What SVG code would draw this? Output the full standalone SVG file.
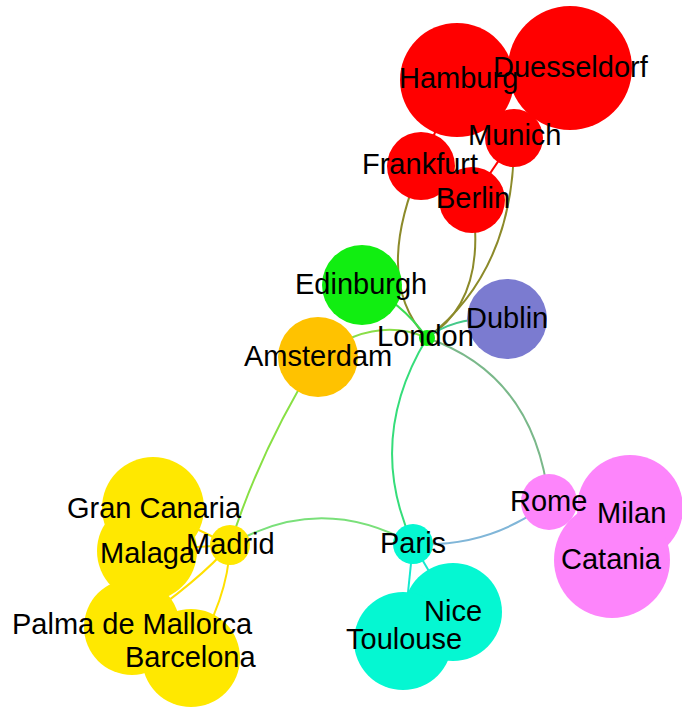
<svg xmlns="http://www.w3.org/2000/svg" width="682" height="707" viewBox="0 0 682 707">
<style>
.e{fill:none;stroke-width:2}
.lb{font-family:"Liberation Sans",Arial,sans-serif;font-size:29px;fill:#000}
.de{fill:#ff0000}.uk{fill:#11ee11}.nl{fill:#ffc200}.ie{fill:#7b7bd0}.es{fill:#ffe800}.fr{fill:#05f7d2}.it{fill:#fd85fb}
</style>
<rect width="682" height="707" fill="#fff"/>
<g id="connectors">
<path class="e" stroke="#8c8a2a" d="M421,166 Q372,280 427,338"/>
<path class="e" stroke="#8c8a2a" d="M472,200 Q488,300 427,338"/>
<path class="e" stroke="#8c8a2a" d="M514,138 Q515,270 427,338"/>
<path class="e" stroke="#ff0000" d="M457,80 L421,166"/>
<path class="e" stroke="#ff0000" d="M514,138 L472,200"/>
<path class="e" stroke="#3cdc50" d="M362,285 Q400,300 427,338"/>
<path class="e" stroke="#8ade48" d="M318,357 Q375,315 427,338"/>
<path class="e" stroke="#45c98a" d="M507,319 Q455,315 427,338"/>
<path class="e" stroke="#35dd7a" d="M427,338 Q365,440 413,544"/>
<path class="e" stroke="#7ab88a" d="M427,338 Q535,375 549,502"/>
<path class="e" stroke="#88e044" d="M318,357 Q260,450 230,545"/>
<path class="e" stroke="#7ae07a" d="M230,545 Q320,492 413,544"/>
<path class="e" stroke="#80b6d8" d="M413,544 Q490,548 549,502"/>
<path class="e" stroke="#14ead0" d="M413,544 L403,641"/>
<path class="e" stroke="#14ead0" d="M413,544 L453,612"/>
<path class="e" stroke="#ffe000" d="M230,545 L153,508"/>
<path class="e" stroke="#ffe000" d="M230,545 L147,550"/>
<path class="e" stroke="#ffe000" d="M230,545 Q200,580 132,627"/>
<path class="e" stroke="#ffe000" d="M230,545 Q228,600 191,658"/>
</g>
<g id="node-hamburg"><circle class="de" cx="457" cy="80" r="57"/></g>
<g id="node-duesseldorf"><circle class="de" cx="570" cy="68" r="62"/></g>
<g id="node-munich"><circle class="de" cx="514" cy="138" r="29"/></g>
<g id="node-frankfurt"><circle class="de" cx="421" cy="166" r="34"/></g>
<g id="node-berlin"><circle class="de" cx="472" cy="200" r="33"/></g>
<g id="node-edinburgh"><circle class="uk" cx="362" cy="285" r="40"/></g>
<g id="node-london"><circle class="uk" cx="427" cy="338" r="8"/></g>
<g id="node-amsterdam"><circle class="nl" cx="318" cy="357" r="40"/></g>
<g id="node-dublin"><circle class="ie" cx="507" cy="319" r="40"/></g>
<g id="node-grancanaria"><circle class="es" cx="153" cy="508" r="51"/></g>
<g id="node-malaga"><circle class="es" cx="147" cy="551" r="50"/></g>
<g id="node-palma"><circle class="es" cx="132" cy="627" r="48"/></g>
<g id="node-barcelona"><circle class="es" cx="191" cy="658" r="49"/></g>
<g id="node-madrid"><circle class="es" cx="230" cy="545" r="20"/></g>
<g id="node-paris"><circle class="fr" cx="413" cy="544" r="20"/></g>
<g id="node-nice"><circle class="fr" cx="453" cy="612" r="49"/></g>
<g id="node-toulouse"><circle class="fr" cx="403" cy="641" r="49"/></g>
<g id="node-rome"><circle class="it" cx="549" cy="502" r="28"/></g>
<g id="node-milan"><circle class="it" cx="630" cy="508" r="53"/></g>
<g id="node-catania"><circle class="it" cx="612" cy="560" r="58"/></g>
<g id="labels" class="lb">
<text x="399" y="88">Hamburg</text>
<text x="493" y="77">Duesseldorf</text>
<text x="468" y="145">Munich</text>
<text x="362" y="174">Frankfurt</text>
<text x="436" y="208">Berlin</text>
<text x="295" y="294">Edinburgh</text>
<text x="377" y="346">London</text>
<text x="244" y="366">Amsterdam</text>
<text x="466" y="328">Dublin</text>
<text x="67" y="518">Gran Canaria</text>
<text x="100" y="563">Malaga</text>
<text x="186" y="554">Madrid</text>
<text x="12" y="634">Palma de Mallorca</text>
<text x="125" y="667">Barcelona</text>
<text x="380" y="553">Paris</text>
<text x="424" y="621">Nice</text>
<text x="346" y="649">Toulouse</text>
<text x="510" y="511">Rome</text>
<text x="597" y="523">Milan</text>
<text x="561" y="569">Catania</text>
</g>
</svg>
